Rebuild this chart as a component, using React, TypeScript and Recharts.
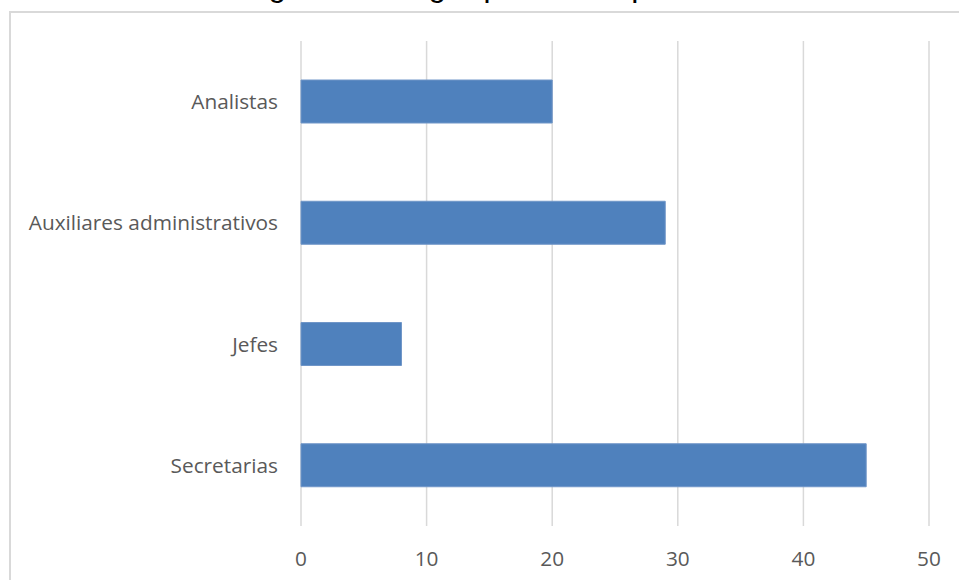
import React from "react";
import {
  BarChart,
  Bar,
  XAxis,
  YAxis,
  CartesianGrid,
} from "recharts";

// cargo que desempeña - número de personas por cargo
const cargos = ["Analistas", "Auxiliares administrativos", "Jefes", "Secretarias"];
const personas = [20, 29, 8, 45];
const xTicks = [0, 10, 20, 30, 40, 50];

const data = cargos.map((cargo, i) => ({ cargo, personas: personas[i] }));

const labelFont = { fontSize: 20.8, fill: "#595959", fontFamily: "'Open Sans', sans-serif" };

export default function App() {
  return (
    <div style={{ position: "absolute", left: 0, top: 0, width: 959, height: 580, overflow: "hidden", background: "#fff" }}>
      {/* chart frame */}
      <div
        style={{
          position: "absolute",
          left: 9,
          top: 11,
          width: 980,
          height: 600,
          borderLeft: "2px solid #d9d9d9",
          borderTop: "2px solid #d9d9d9",
        }}
      />
      <div
        style={{
          position: "absolute",
          left: 0,
          width: 944,
          top: -31,
          textAlign: "center",
          fontFamily: "'Liberation Sans', Arial, sans-serif",
          fontSize: 32,
          lineHeight: "32px",
          color: "#000",
          whiteSpace: "nowrap",
        }}
      >
        Figura 1. Cargo que desempeña
      </div>
      <div style={{ position: "absolute", left: 0, top: 0 }}>
        <BarChart
          width={959}
          height={580}
          data={data}
          layout="vertical"
          margin={{ top: 41, right: 30, bottom: 24, left: 0 }}
          barCategoryGap="32%"
        >
          <CartesianGrid horizontal={false} stroke="#d9d9d9" strokeWidth={1.5} />
          <XAxis
            type="number"
            domain={[0, 50]}
            ticks={xTicks}
            axisLine={false}
            tickLine={false}
            tickSize={0}
            tickMargin={25}
            height={30}
            tick={labelFont}
          />
          <YAxis
            type="category"
            dataKey="cargo"
            width={301}
            axisLine={false}
            tickLine={false}
            tickSize={0}
            tickMargin={23}
            tick={labelFont}
          />
          <Bar
            dataKey="personas"
            fill="#4f81bd"
            stroke="#7096c8"
            strokeWidth={1}
            barSize={43}
            isAnimationActive={false}
          />
        </BarChart>
      </div>
    </div>
  );
}
